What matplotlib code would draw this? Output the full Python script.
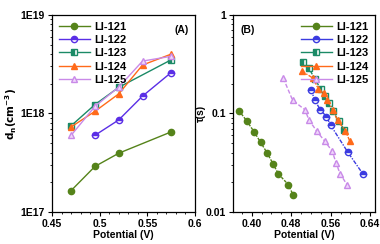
import numpy as np
import matplotlib
matplotlib.use('Agg')
import matplotlib.pyplot as plt
from matplotlib.lines import Line2D
from matplotlib.ticker import FixedLocator, AutoMinorLocator, LogLocator, NullFormatter

plt.rcParams['font.family'] = ['Liberation Sans', 'DejaVu Sans']
plt.rcParams['font.weight'] = 'bold'
plt.rcParams['font.size'] = 7.5

SAMPLES = ['LI-121', 'LI-122', 'LI-123', 'LI-124', 'LI-125']

# panel A: dn vs potential
a_x = {
    'LI-121': [0.47, 0.495, 0.52, 0.575],
    'LI-122': [0.495, 0.52, 0.545, 0.575],
    'LI-123': [0.47, 0.495, 0.52, 0.575],
    'LI-124': [0.47, 0.495, 0.52, 0.545, 0.575],
    'LI-125': [0.47, 0.495, 0.52, 0.545, 0.575],
}
a_y = {
    'LI-121': [1.65e17, 2.9e17, 3.95e17, 6.5e17],
    'LI-122': [6.0e17, 8.6e17, 1.5e18, 2.6e18],
    'LI-123': [7.5e17, 1.23e18, 1.84e18, 3.5e18],
    'LI-124': [7.3e17, 1.05e18, 1.58e18, 3.1e18, 4.0e18],
    'LI-125': [6.0e17, 1.18e18, 1.85e18, 3.4e18, 3.8e18],
}

# panel B: tau vs potential
b_x = {
    'LI-121': [0.374, 0.390, 0.405, 0.418, 0.4315, 0.443, 0.454, 0.474, 0.484],
    'LI-122': [0.520, 0.528, 0.539, 0.5515, 0.560, 0.595, 0.625],
    'LI-123': [0.504, 0.516, 0.528, 0.540, 0.5485, 0.5575, 0.565, 0.576, 0.588],
    'LI-124': [0.501, 0.525, 0.535, 0.547, 0.5535, 0.564, 0.574, 0.590, 0.599],
    'LI-125': [0.464, 0.483, 0.508, 0.516, 0.532, 0.5485, 0.563, 0.571, 0.579, 0.593],
}
b_y = {
    'LI-121': [0.107, 0.084, 0.065, 0.051, 0.0396, 0.031, 0.0244, 0.019, 0.0149],
    'LI-122': [0.175, 0.136, 0.109, 0.093, 0.076, 0.0403, 0.0245],
    'LI-123': [0.33, 0.287, 0.224, 0.176, 0.150, 0.127, 0.106, 0.083, 0.068],
    'LI-124': [0.27, 0.227, 0.177, 0.163, 0.136, 0.109, 0.085, 0.067, 0.052],
    'LI-125': [0.228, 0.136, 0.109, 0.086, 0.066, 0.052, 0.0416, 0.0315, 0.0245, 0.019],
}

colors = {'LI-121': '#55831a', 'LI-122': '#5a2ee6', 'LI-123': '#1b8a66',
          'LI-124': '#ff6a1a', 'LI-125': '#c98ae8'}
styles = {
    'LI-121': dict(marker='o', fillstyle='full'),
    'LI-122': dict(marker='o', fillstyle='top', markerfacecoloralt='white'),
    'LI-123': dict(marker='s', fillstyle='left', markerfacecoloralt='white'),
    'LI-124': dict(marker='^', fillstyle='full'),
    'LI-125': dict(marker='^', fillstyle='full', markerfacecolor='#f0d8fb'),
}
b_ls = {'LI-121': (0, (2, 1)), 'LI-122': (0, (3, 1, 1, 1)), 'LI-123': (0, (2, 1)),
        'LI-124': (0, (3, 1, 1, 1)), 'LI-125': (0, (3, 1.5))}

fig = plt.figure(figsize=(3.8, 2.44), dpi=100)
axA = fig.add_axes([0.137, 0.131, 0.376, 0.808])
axB = fig.add_axes([0.613, 0.131, 0.374, 0.808])

b_handles = []
for s in SAMPLES:
    axA.plot(a_x[s], a_y[s], color=colors[s], lw=1, ms=4.5, label=s, **styles[s])
    bc = '#3b3be0' if s == 'LI-122' else colors[s]
    axB.plot(b_x[s], b_y[s], color=bc, lw=1, ms=4.5, ls=b_ls[s], **styles[s])
    b_handles.append(Line2D([], [], color=bc, lw=1, ms=4.5, label=s, **styles[s]))

axA.set_yscale('log')
axA.set_ylim(1e17, 1e19)
axA.set_xlim(0.45, 0.6)
axA.xaxis.set_major_locator(FixedLocator([0.45, 0.5, 0.55, 0.6]))
axA.set_xticklabels(['0.45', '0.5', '0.55', '0.6'])
axA.xaxis.set_minor_locator(AutoMinorLocator(5))
axA.set_yticks([1e17, 1e18, 1e19])
axA.set_yticklabels(['1E17', '1E18', '1E19'])
axA.yaxis.set_minor_locator(LogLocator(base=10, subs=np.arange(2, 10)))
axA.yaxis.set_minor_formatter(NullFormatter())
axA.set_xlabel('Potential (V)', fontweight='bold', labelpad=1)
axA.set_ylabel(r'$\mathbf{d_n(cm^{-3})}$', labelpad=1)
axA.text(0.96, 0.95, '(A)', transform=axA.transAxes, ha='right', va='top', fontweight='bold')
axA.legend(loc='upper left', frameon=False, handlelength=2.8, borderaxespad=0.2,
           labelspacing=0.3, handletextpad=0.4, fontsize=8)

axB.set_yscale('log')
axB.set_ylim(0.01, 1)
axB.set_xlim(0.362, 0.65)
axB.xaxis.set_major_locator(FixedLocator([0.40, 0.48, 0.56, 0.64]))
axB.set_xticklabels(['0.40', '0.48', '0.56', '0.64'])
axB.xaxis.set_minor_locator(AutoMinorLocator(4))
axB.set_yticks([0.01, 0.1, 1])
axB.set_yticklabels(['0.01', '0.1', '1'])
axB.yaxis.set_minor_locator(LogLocator(base=10, subs=np.arange(2, 10)))
axB.yaxis.set_minor_formatter(NullFormatter())
axB.set_xlabel('Potential (V)', fontweight='bold', labelpad=1)
axB.set_ylabel('τ(s)', fontweight='bold', labelpad=0)
axB.text(0.05, 0.95, '(B)', transform=axB.transAxes, ha='left', va='top', fontweight='bold')
axB.legend(handles=b_handles, loc='upper right', frameon=False, handlelength=2.8,
           borderaxespad=0.2, labelspacing=0.3, handletextpad=0.4, fontsize=8)

for ax in (axA, axB):
    ax.tick_params(which='major', direction='out', length=3, width=0.8, pad=2)
    ax.tick_params(which='minor', direction='out', length=1.5, width=0.6)
    for sp in ax.spines.values():
        sp.set_linewidth(0.9)

fig.savefig('out.png', dpi=100)
